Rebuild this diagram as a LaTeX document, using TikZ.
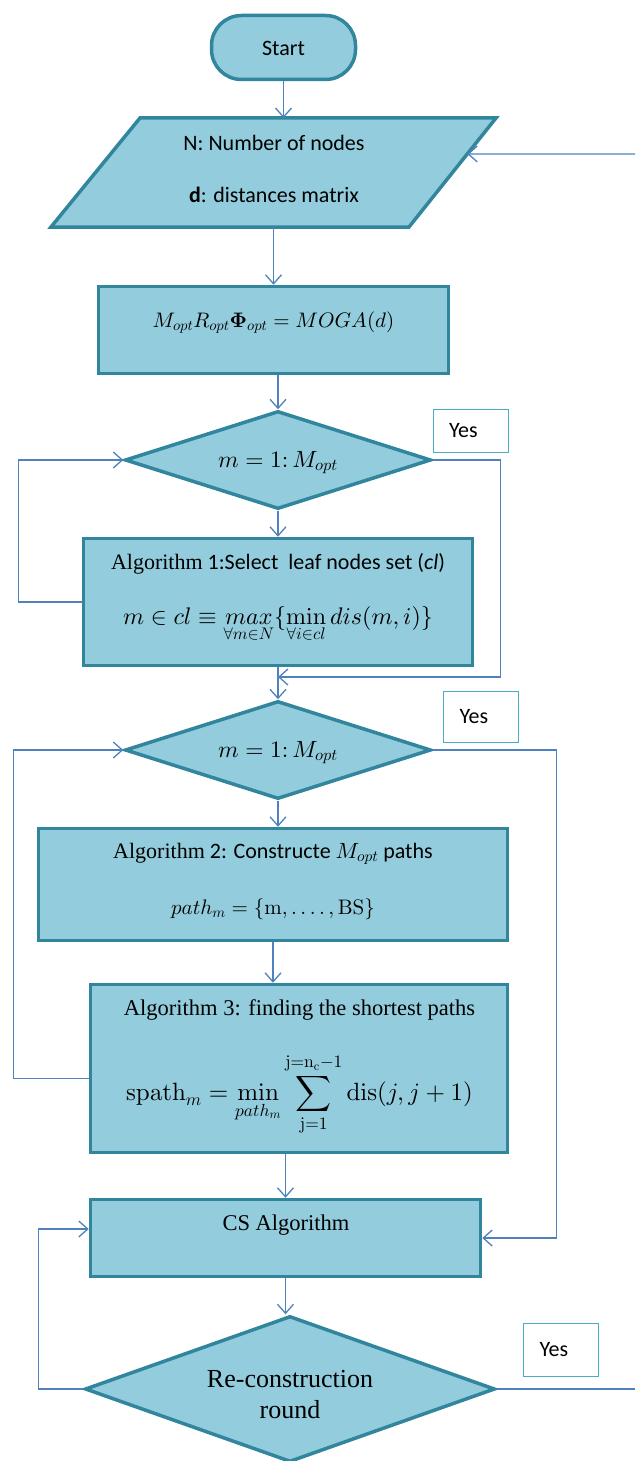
\documentclass[tikz,border=0pt]{standalone}
\usepackage[no-math]{fontspec}
\setmainfont{Carlito}
\newfontfamily\tnr{Liberation Serif}
\DeclareFontShape{OT1}{cmr}{m}{n}{<->cmr10}{}
\DeclareFontShape{OT1}{cmr}{bx}{n}{<->cmbx10}{}
\DeclareFontShape{OML}{cmm}{m}{it}{<->cmmi10}{}
\DeclareFontShape{OML}{cmm}{b}{it}{<->cmmib10}{}
\DeclareFontShape{OMS}{cmsy}{m}{n}{<->cmsy10}{}
\DeclareFontShape{OMX}{cmex}{m}{n}{<->cmex10}{}
\usetikzlibrary{arrows.meta,shapes.geometric,calc}
\definecolor{boxfill}{HTML}{93CDDD}
\definecolor{boxline}{HTML}{31859C}
\definecolor{conncol}{HTML}{4F81BD}
\definecolor{yesline}{HTML}{4BACC6}
\begin{document}
\begin{tikzpicture}[x=1pt,y=-1pt,
  box/.style={draw=boxline, fill=boxfill, line width=3.5pt, shape=rectangle, inner sep=0pt},
  shapeline/.style={draw=boxline, fill=boxfill, line width=3.5pt, line join=miter},
  dia/.style={draw=boxline, fill=boxfill, line width=3.5pt, shape=diamond, inner sep=0pt},
  conn/.style={draw=conncol, line width=1.3pt, -{Straight Barb[length=9pt,width=16pt,line width=1.3pt]}},
  connline/.style={draw=conncol, line width=1.3pt},
  yesbox/.style={draw=yesline, fill=white, line width=1pt, text width=43pt, inner xsep=16pt, inner ysep=0pt, align=left, font=\fontsize{22}{26}\selectfont},
  txt/.style={font=\fontsize{22}{26}\selectfont, inner sep=0pt, anchor=base},
  sertxt/.style={font=\fontsize{22.5}{27}\selectfont\tnr, inner sep=0pt, anchor=base},
  mtxt/.style={font=\fontsize{#1}{#1}\selectfont, inner sep=0pt, anchor=base},
  bigtxt/.style={font=\fontsize{26}{30}\selectfont\tnr, inner sep=0pt, anchor=base}
]
\useasboundingbox (0,0) rectangle (635,1461);

% ---- shapes ----
\node[box, rounded corners=30pt, minimum width=144pt, minimum height=64pt] (start) at (283.5,47.5) {};
\coordinate (pA) at (140,118);
\coordinate (pB) at (496,118);
\coordinate (pC) at (409,227);
\coordinate (pD) at (51,227);
\draw[shapeline] (pA) -- (pB) -- (pC) -- (pD) -- cycle;
\node[box, minimum width=350pt, minimum height=87pt] (moga) at (273.5,330) {};
\node[dia, minimum width=306pt, minimum height=98pt] (d1) at (278,460) {};
\node[box, minimum width=389pt, minimum height=127pt] (alg1) at (278,602) {};
\node[dia, minimum width=306pt, minimum height=98pt] (d2) at (278,750) {};
\node[box, minimum width=469pt, minimum height=112pt] (alg2) at (273,884.5) {};
\node[box, minimum width=417pt, minimum height=168pt] (alg3) at (299,1068.5) {};
\node[box, minimum width=390pt, minimum height=77pt] (cs) at (285.5,1238) {};
\node[dia, minimum width=410pt, minimum height=146pt] (d3) at (290,1389) {};

\node[yesbox, minimum height=43pt] (yes1) at (470.5,430.5) {Yes};
\node[yesbox, minimum height=51pt] (yes2) at (481,716.5) {Yes};
\node[yesbox, minimum height=53pt] (yes3) at (561,1349.5) {Yes};

% ---- texts ----
\node[txt] (tstart) at (283.5,56) {Start};
\node[txt] (inN) at (274,150) {N: Number of nodes};
\node[txt] (inD) at (274,202) {\textbf{d}: distances matrix};
\node[mtxt=21] (tmoga) at (273.5,327) {$M_{opt}R_{opt}\mathbf{\Phi}_{opt} = MOGA(d)$};
\node[mtxt=23.5] (td1) at (278,467) {$m = 1{:}\,M_{opt}$};
\node[txt] (ta1a) at (278,569) {{\tnr Algorithm} 1:Select\ \ leaf nodes set (\textit{cl})};
\node[mtxt=24] (ta1b) at (278,624) {$m \in cl \equiv \mathop{max}\limits_{\forall m\in N}\{\min\limits_{\forall i\in cl} dis(m,i)\}$};
\node[mtxt=23.5] (td2) at (278,757) {$m = 1{:}\,M_{opt}$};
\node[txt] (ta2a) at (273,858) {{\tnr Algorithm} 2: Constructe $M_{opt}$ paths};
\node[mtxt=21] (ta2b) at (273,914) {$path_m = \{\mathrm{m},\ldots.\,,\mathrm{BS}\}$};
\node[sertxt] (ta3a) at (299.5,1015) {Algorithm 3: finding the shortest paths};
\node[mtxt=25] (ta3b) at (299.5,1100) {$\displaystyle \mathrm{spath}_m = \min_{path_m} \sum_{\mathrm{j=1}}^{\mathrm{j=n_c-1}} \mathrm{dis}(j,j+1)$};
\node[sertxt] (tcs) at (286,1230) {CS Algorithm};
\node[bigtxt] (td3a) at (290,1387) {Re-construction};
\node[bigtxt] (td3b) at (290,1418) {round};

% ---- connectors ----
\coordinate (inR) at (635,154);
\coordinate (inE) at ($(pB)!0.33!(pC)$);
\coordinate (m1) at (278,677);
\coordinate (outR) at (635,1389);
\draw[conn] (start.south) -- (start.south |- pA);
\draw[conn] (inR) -- (inE);
\draw[conn] (moga.north |- pD) -- (moga.north);
\draw[conn] (d1.north |- moga.south) -- (d1.north);
\draw[conn] (d1.south) -- (alg1.north);
\draw[conn] (d1.east) -- ++(68,0) |- (m1);
\draw[conn] (alg1.west) -- ++(-63,0) |- (d1.west);
\draw[conn] (alg1.south) -- (d2.north);
\draw[conn] (d2.east) -- ++(124,0) |- (cs.east);
\draw[conn] (d2.south) -- (d2.south |- alg2.north);
\draw[conn] (alg2.south) -- (alg2.south |- alg3.north);
\draw[conn] ([yshift=-10pt]alg3.west) -- ++(-75,0) |- (d2.west);
\draw[conn] (cs.north |- alg3.south) -- (cs.north);
\draw[conn] (cs.south) -- (cs.south |- d3.north);
\draw[conn] (d3.west) -- ++(-45,0) |- ([yshift=9pt]cs.west);
\draw[connline] (d3.east) -- (outR);
\end{tikzpicture}
\end{document}
